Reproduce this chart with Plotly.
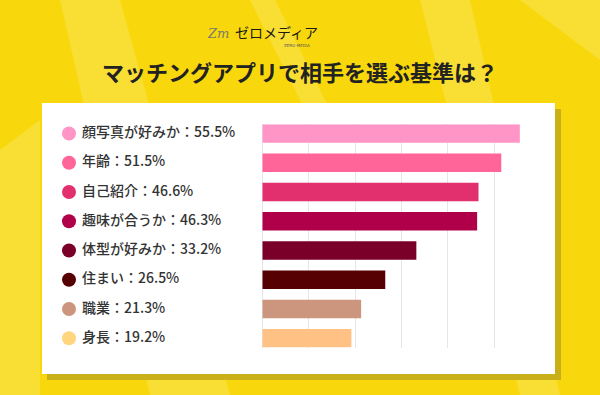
import plotly.graph_objects as go

categories = ["顔写真が好みか", "年齢", "自己紹介", "趣味が合うか", "体型が好みか", "住まい", "職業", "身長"]
values = [55.5, 51.5, 46.6, 46.3, 33.2, 26.5, 21.3, 19.2]
bar_colors = ["#FF94C6", "#FF6598", "#E2306F", "#B0004A", "#7A0029", "#560004", "#CC967E", "#FFC184"]
dot_colors = ["#FF94C6", "#FF6598", "#E2306F", "#B0004A", "#7A0029", "#560004", "#CC967E", "#FFD57E"]
title_text = "マッチングアプリで相手を選ぶ基準は？"
labels = [f"{c}：{v}%" for c, v in zip(categories, values)]

W, H = 600, 395
FONT = "Noto Sans CJK JP"

fig = go.Figure()

fig.add_trace(go.Bar(
    x=values, y=categories, orientation="h",
    marker=dict(color=bar_colors, line=dict(width=0)),
    width=0.63, xaxis="x", yaxis="y", hoverinfo="skip", showlegend=False,
))

# legend dots
fig.add_trace(go.Scatter(
    x=[69] * len(categories), y=categories, mode="markers",
    marker=dict(size=14, color=dot_colors, line=dict(width=0)),
    xaxis="x2", yaxis="y", hoverinfo="skip", showlegend=False,
))
# label text
fig.add_trace(go.Scatter(
    x=[82] * len(categories), y=categories, mode="text",
    text=labels, textposition="middle right",
    textfont=dict(family=FONT, size=14, color="#333333", weight=500),
    xaxis="x2", yaxis="y", hoverinfo="skip", showlegend=False,
))

def px(x):
    return x / W

def py(y):
    return 1 - y / H

shapes = []
# light diagonal streaks in background
streaks = [
    [(60, 0), (120, 0), (230, 395), (150, 395)],
    [(250, 0), (275, 0), (330, 110), (305, 110)],
    [(420, 0), (470, 0), (560, 395), (520, 395)],
    [(0, 150), (40, 120), (40, 395), (0, 395)],
    [(520, 0), (600, 0), (600, 60)],
]
for pts in streaks:
    path = "M " + " L ".join(f"{px(x)},{py(y)}" for x, y in pts) + " Z"
    shapes.append(dict(type="path", xref="paper", yref="paper", path=path,
                       fillcolor="rgba(255,255,255,0.16)", line=dict(width=0), layer="below"))
# panel shadow
shapes.append(dict(type="rect", xref="paper", yref="paper",
                   x0=px(47), x1=px(561), y0=py(380), y1=py(109),
                   fillcolor="#C9B019", line=dict(width=0), layer="below"))
# white panel
shapes.append(dict(type="rect", xref="paper", yref="paper",
                   x0=px(42), x1=px(555), y0=py(374), y1=py(103),
                   fillcolor="#FFFFFF", line=dict(width=0), layer="below"))

annotations = [
    dict(text=f"<b>{title_text}</b>", x=0.5, y=py(71), xref="paper", yref="paper",
         showarrow=False, xanchor="center", yanchor="middle",
         font=dict(family=FONT, size=22, color="#222222")),
    dict(text="<i>Zm</i>", x=px(218), y=py(33), xref="paper", yref="paper",
         showarrow=False, xanchor="center", yanchor="middle",
         font=dict(family="DejaVu Serif", size=13, color="#7a7a6a")),
    dict(text="ゼロメディア", x=px(276), y=py(32), xref="paper", yref="paper",
         showarrow=False, xanchor="center", yanchor="middle",
         font=dict(family=FONT, size=14, color="#1a1a1a")),
    dict(text="ZERO-MEDIA", x=px(297), y=py(46), xref="paper", yref="paper",
         showarrow=False, xanchor="center", yanchor="middle",
         font=dict(family="DejaVu Sans", size=4, color="#555555")),
]

n = len(categories)
fig.update_layout(
    width=W, height=H,
    margin=dict(l=0, r=0, t=0, b=0),
    paper_bgcolor="#F8D80C",
    plot_bgcolor="rgba(0,0,0,0)",
    bargap=0.37,
    shapes=shapes,
    annotations=annotations,
    xaxis=dict(domain=[262.3 / W, 540.7 / W], range=[0, 60], dtick=10, tick0=0,
               showgrid=True, gridcolor="#E6E6E6", gridwidth=1,
               zeroline=True, zerolinecolor="#E6E6E6", zerolinewidth=1,
               showticklabels=False, ticks="", fixedrange=True),
    xaxis2=dict(domain=[0, 258 / W], range=[0, 258], anchor="y",
                showgrid=False, zeroline=False, showticklabels=False, ticks="", fixedrange=True),
    yaxis=dict(domain=[py(347.5), py(124.3)], type="category",
               categoryorder="array", categoryarray=categories,
               range=[n - 1 + 0.315, -0.315],
               showgrid=False, zeroline=False, showticklabels=False, ticks="", fixedrange=True),
)

fig.write_html(
    "out.html",
    config={"displayModeBar": False},
    post_script="document.body.style.margin='0';document.body.style.padding='0';document.body.style.overflow='hidden';",
)
